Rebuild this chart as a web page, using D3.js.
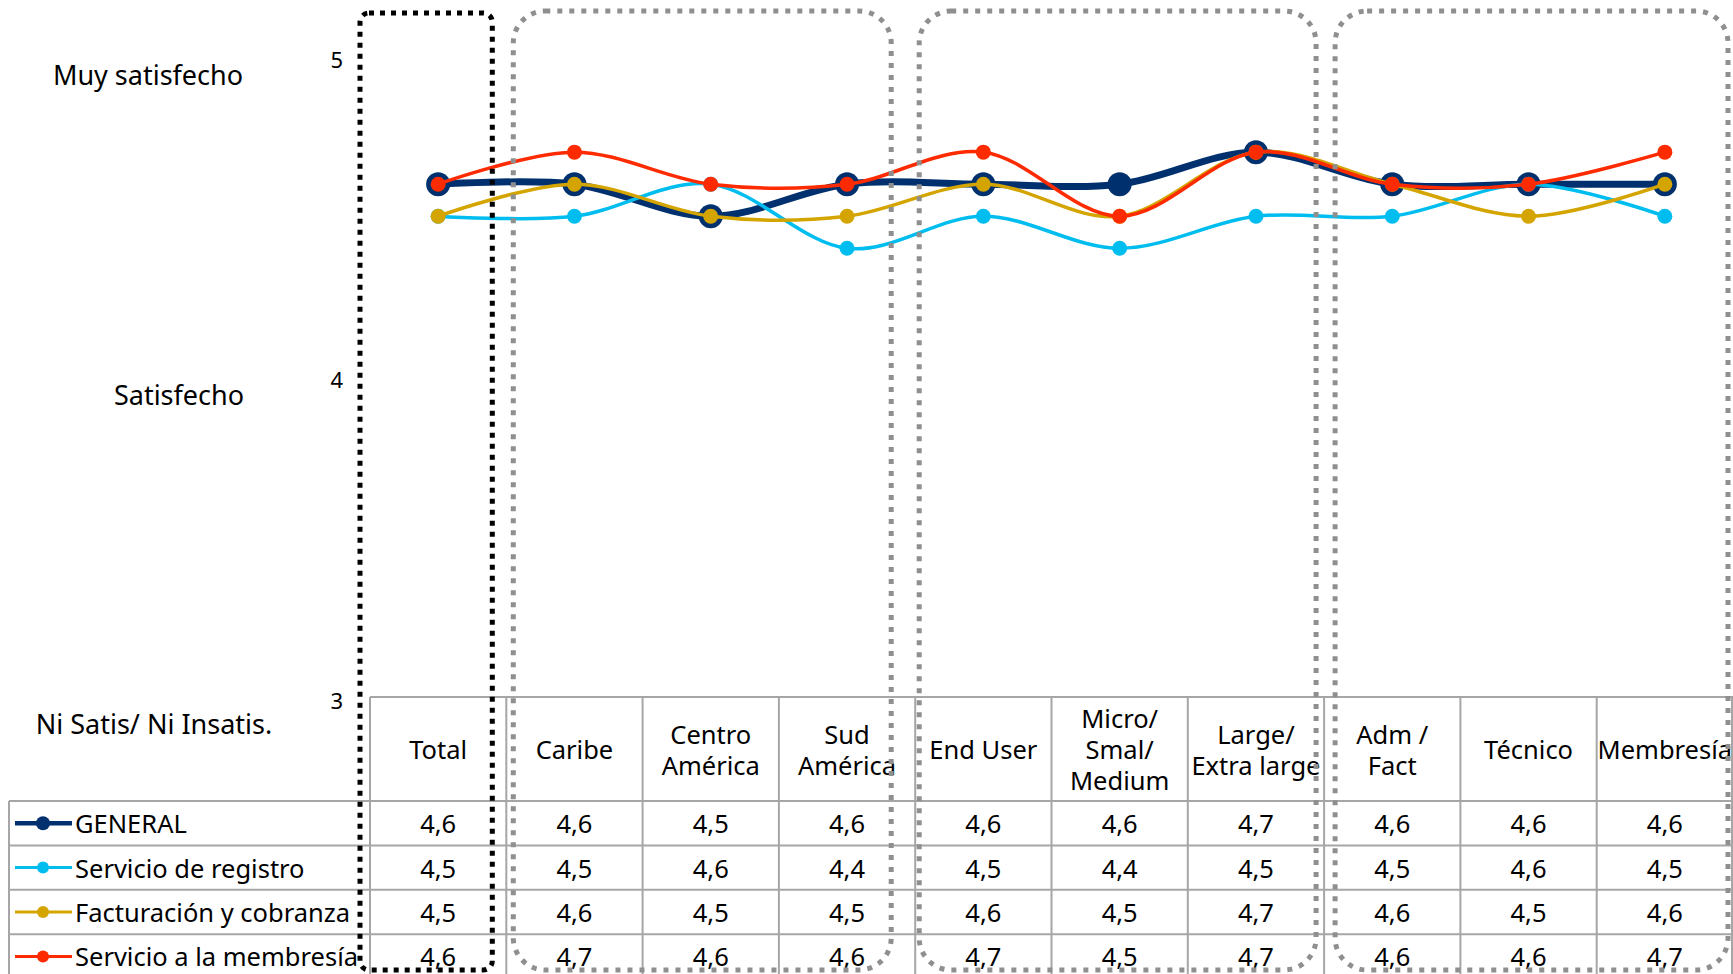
<!DOCTYPE html>
<html>
<head>
<meta charset="utf-8">
<script src="https://cdn.jsdelivr.net/npm/d3@7/dist/d3.min.js"></script>
<style>
  html, body { margin: 0; padding: 0; background: #fff; }
  svg { display: block; font-family: "Noto Sans", sans-serif; }
</style>
</head>
<body>
<svg id="chart" width="1733" height="974"></svg>
<script>
// Categories (column headers of the data table)
const categories = ["Total", "Caribe", "Centro\nAmérica", "Sud\nAmérica", "End User",
  "Micro/\nSmal/\nMedium", "Large/\nExtra large", "Adm /\nFact", "Técnico", "Membresía"];

// Series values
const seriesNames = ["GENERAL", "Servicio de registro", "Facturación y cobranza", "Servicio a la membresía"];
const general     = [4.6, 4.6, 4.5, 4.6, 4.6, 4.6, 4.7, 4.6, 4.6, 4.6];
const registro    = [4.5, 4.5, 4.6, 4.4, 4.5, 4.4, 4.5, 4.5, 4.6, 4.5];
const facturacion = [4.5, 4.6, 4.5, 4.5, 4.6, 4.5, 4.7, 4.6, 4.5, 4.6];
const membresia   = [4.6, 4.7, 4.6, 4.6, 4.7, 4.5, 4.7, 4.6, 4.6, 4.7];

// Axis ticks and their verbal scale labels
const yTicks = [3, 4, 5];
const scaleLabels = ["Ni Satis/ Ni Insatis.", "Satisfecho", "Muy satisfecho"];

// Column groups outlined with dotted boxes
const groups = [
  { from: "Total", to: "Total", kind: "black" },
  { from: "Caribe", to: "Sud\nAmérica", kind: "gray" },
  { from: "End User", to: "Large/\nExtra large", kind: "gray" },
  { from: "Adm /\nFact", to: "Membresía", kind: "gray" }
];

// ---- layout & style ----
const W = 1733, H = 974;
const tableLeft = 9, colLeft = 370, colRight = 1733;
const plotTop = 56, plotBottom = 697;
const headerBottom = 801, rowH = 44.4;
const gridColor = "#a6a6a6";
const colors = ["#00306e", "#00bdef", "#d4a500", "#ff2b00"];
const lineWidths = [7, 3.5, 3.5, 3.5];
const markerR = [12, 7.5, 7.5, 7.5];
const legendLineW = [4.5, 3, 3, 3];
const legendR = [7, 6, 6, 6];
const boxInsets = [[-10, -14], [7, -24], [4, -8], [11, -5]];
const fontSize = 25.5;
const scaleLabelX = [154, 179, 148];
const scaleLabelDy = [26, 18, 18];

const seriesValues = [general, registro, facturacion, membresia];
const series = seriesNames.map((name, i) => ({ name, values: seriesValues[i], i }));

const svg = d3.select("#chart");

const x = d3.scaleBand().domain(categories).range([colLeft, colRight]).padding(0);
const cx = c => x(c) + x.bandwidth() / 2;
const y = d3.scaleLinear().domain([3, 5]).range([plotBottom, plotTop]);
const fmt = v => d3.format(".1f")(v).replace(".", ",");

// ---- y axis (labels only) ----
const yAxis = d3.axisLeft(y).tickValues(yTicks).tickFormat(d3.format("d")).tickSize(0).tickPadding(0);
const ya = svg.append("g").attr("transform", `translate(343,4)`).call(yAxis);
ya.select(".domain").remove();
ya.selectAll("text").attr("font-size", 22).attr("font-family", "Noto Sans").attr("fill", "#000");

// verbal scale labels beside the ticks
svg.append("g").selectAll("text").data(yTicks).join("text")
  .attr("x", (d, i) => scaleLabelX[i])
  .attr("y", (d, i) => y(d) + scaleLabelDy[i])
  .attr("text-anchor", "middle")
  .attr("dominant-baseline", "central")
  .attr("font-size", 27)
  .text((d, i) => scaleLabels[i]);

// ---- lines & markers ----
const line = d3.line()
  .x((d, i) => cx(categories[i]))
  .y(d => y(d))
  .curve(d3.curveCatmullRom.alpha(0));

const gSeries = svg.append("g");
series.forEach(s => {
  const g = gSeries.append("g");
  g.append("path")
    .attr("d", line(s.values))
    .attr("fill", "none")
    .attr("stroke", colors[s.i])
    .attr("stroke-width", lineWidths[s.i])
    .attr("stroke-linejoin", "round");
  g.selectAll("circle").data(s.values).join("circle")
    .attr("cx", (d, i) => cx(categories[i]))
    .attr("cy", d => y(d))
    .attr("r", markerR[s.i])
    .attr("fill", colors[s.i]);
});

// ---- data table ----
const table = svg.append("g");
const rowsTop = headerBottom;
const nRows = series.length;
// horizontal rules
table.append("line").attr("x1", colLeft).attr("x2", colRight).attr("y1", plotBottom).attr("y2", plotBottom)
  .attr("stroke", gridColor).attr("stroke-width", 2);
d3.range(nRows + 1).forEach(r => {
  const yy = rowsTop + r * rowH;
  table.append("line").attr("x1", tableLeft).attr("x2", colRight).attr("y1", yy).attr("y2", yy)
    .attr("stroke", gridColor).attr("stroke-width", 2);
});
// vertical rules
categories.forEach(c => {
  table.append("line").attr("x1", x(c)).attr("x2", x(c)).attr("y1", plotBottom).attr("y2", H)
    .attr("stroke", gridColor).attr("stroke-width", 2);
});
table.append("line").attr("x1", colRight - 1).attr("x2", colRight - 1).attr("y1", plotBottom).attr("y2", H)
  .attr("stroke", gridColor).attr("stroke-width", 2);
table.append("line").attr("x1", tableLeft).attr("x2", tableLeft).attr("y1", rowsTop).attr("y2", H)
  .attr("stroke", gridColor).attr("stroke-width", 2);

// header labels
const headerMid = (plotBottom + headerBottom) / 2;
categories.forEach(c => {
  const lines = c.split("\n");
  const t = table.append("text")
    .attr("text-anchor", "middle")
    .attr("font-size", fontSize)
    .attr("fill", "#000");
  lines.forEach((ln, k) => {
    t.append("tspan")
      .attr("x", cx(c))
      .attr("y", headerMid + (k - (lines.length - 1) / 2) * 31)
      .attr("dominant-baseline", "central")
      .text(ln);
  });
});

// legend keys and values
series.forEach(s => {
  const yc = rowsTop + s.i * rowH + rowH / 2;
  table.append("line").attr("x1", 15).attr("x2", 72).attr("y1", yc).attr("y2", yc)
    .attr("stroke", colors[s.i]).attr("stroke-width", legendLineW[s.i]);
  table.append("circle").attr("cx", 43).attr("cy", yc).attr("r", legendR[s.i]).attr("fill", colors[s.i]);
  table.append("text").attr("x", 75).attr("y", yc)
    .attr("dominant-baseline", "central")
    .attr("font-size", fontSize)
    .text(s.name);
  s.values.forEach((v, i) => {
    table.append("text")
      .attr("x", cx(categories[i]))
      .attr("y", yc)
      .attr("text-anchor", "middle")
      .attr("dominant-baseline", "central")
      .attr("font-size", fontSize)
      .text(fmt(v));
  });
});

// ---- dotted group boxes ----
const boxTop = { black: 13, gray: 11 };
const boxBottom = 970;
groups.forEach((g, k) => {
  const x0 = x(g.from) + boxInsets[k][0];
  const x1 = x(g.to) + x.bandwidth() + boxInsets[k][1];
  const black = g.kind === "black";
  svg.append("rect")
    .attr("x", x0).attr("y", boxTop[g.kind])
    .attr("width", x1 - x0).attr("height", boxBottom - boxTop[g.kind])
    .attr("rx", black ? 9 : 32).attr("ry", black ? 9 : 32)
    .attr("fill", "none")
    .attr("stroke", black ? "#000" : "#8f8f8f")
    .attr("stroke-width", black ? 5 : 5)
    .attr("stroke-dasharray", black ? "5 6" : "5 7");
});
</script>
</body>
</html>
